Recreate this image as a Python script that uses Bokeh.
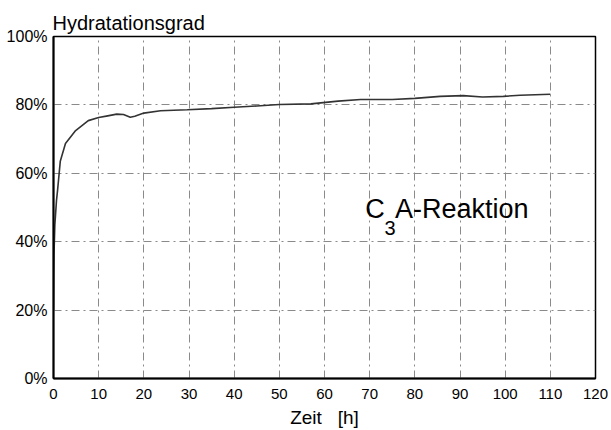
from bokeh.plotting import figure
from bokeh.models import Range1d, FixedTicker, Label
from bokeh.embed import file_html
from bokeh.resources import INLINE

# Data (time in h, degree of hydration in %)
zeit = [0, 0.05, 0.1, 0.3, 0.66, 0.9, 1.5, 2.65, 4.9, 7.7, 10, 12, 14, 15.5, 17, 18,
        20, 23.7, 29.6, 35, 40, 45, 50, 57, 63, 68, 75, 80, 85.6, 90.7, 95, 99.6,
        103.3, 110]
grad = [20, 30, 36, 45, 52, 55, 63.5, 68.7, 72.5, 75.4, 76.3, 76.8, 77.3, 77.2, 76.4,
        76.7, 77.6, 78.3, 78.6, 78.9, 79.3, 79.7, 80.1, 80.3, 81.1, 81.6, 81.6, 81.9,
        82.5, 82.7, 82.3, 82.5, 82.8, 83.1]

x_ticks = [0, 10, 20, 30, 40, 50, 60, 70, 80, 90, 100, 110, 120]
y_ticks = [0, 20, 40, 60, 80, 100]
y_tick_labels = ["0%", "20%", "40%", "60%", "80%", "100%"]

FONT = "Liberation Sans"

p = figure(width=611, height=430, output_backend="svg", toolbar_location=None,
           x_range=Range1d(0, 120), y_range=Range1d(0, 100),
           min_border_left=53, min_border_right=16, min_border_top=36,
           min_border_bottom=52)

p.title.text = "Hydratationsgrad"
p.title.align = "left"
p.title.text_font = FONT
p.title.text_font_size = "20px"
p.title.text_font_style = "normal"
p.title.text_color = "black"
p.title.offset = -1
p.title.standoff = 5

p.outline_line_color = "black"
p.outline_line_width = 1.5
p.background_fill_color = "white"
p.border_fill_color = "white"

for ax in (p.xaxis[0], p.yaxis[0]):
    ax.axis_line_color = "black"
    ax.axis_line_width = 2
    ax.major_tick_line_color = None
    ax.minor_tick_line_color = None
    ax.major_tick_out = 0
    ax.major_tick_in = 0
    ax.major_label_text_font = FONT
    ax.major_label_text_color = "black"

p.xaxis.major_label_text_font_size = "15px"
p.yaxis.major_label_text_font_size = "16px"
p.xaxis.ticker = FixedTicker(ticks=x_ticks)
p.yaxis.ticker = FixedTicker(ticks=y_ticks)
p.yaxis.major_label_overrides = {t: l for t, l in zip(y_ticks, y_tick_labels)}
p.yaxis.major_label_standoff = 6
p.xaxis.major_label_standoff = 10

p.xaxis.axis_label = "Zeit\u00a0\u00a0\u00a0[h]"
p.xaxis.axis_label_text_font = FONT
p.xaxis.axis_label_text_font_size = "19px"
p.xaxis.axis_label_text_font_style = "normal"
p.xaxis.axis_label_standoff = 5
p.xaxis.axis_label_text_color = "black"

for g in (p.xgrid[0], p.ygrid[0]):
    g.grid_line_color = "#8a8a8a"
    g.grid_line_dash = "8 4 2 4"
    g.grid_line_width = 1

p.line(zeit, grad, line_color="#333333", line_width=1.6)

p.add_layout(Label(x=69.0, y=45.3, text="C", text_font=FONT, text_font_size="27px",
                   text_color="black"))
p.add_layout(Label(x=73.3, y=42.0, text="3", text_font=FONT, text_font_size="20px",
                   text_color="black"))
p.add_layout(Label(x=75.6, y=45.3, text="A-Reaktion", text_font=FONT,
                   text_font_size="27px", text_color="black"))

open("out.html", "w").write(file_html(p, INLINE))
